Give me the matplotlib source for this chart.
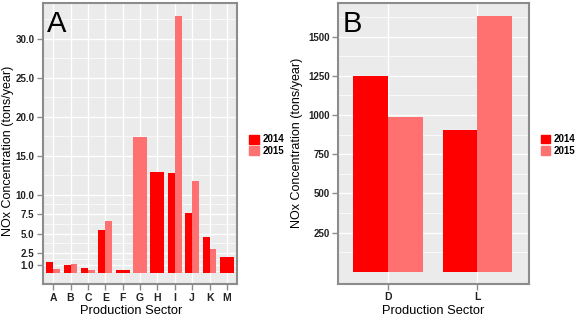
import matplotlib.pyplot as plt
import numpy as np

plt.rcParams['font.family'] = ['Liberation Sans', 'DejaVu Sans']

# panel A data
sectors_a = ['A', 'B', 'C', 'E', 'F', 'G', 'H', 'I', 'J', 'K', 'M']
nox_a_2014 = [1.4, 0.95, 0.6, 5.5, 0.35, np.nan, 12.95, 12.75, 7.6, 4.55, 2.0]
nox_a_2015 = [0.45, 1.1, 0.35, 6.6, np.nan, 17.4, np.nan, 32.9, 11.8, 3.0, np.nan]
yticks_a = [1.0, 2.5, 5.0, 7.5, 10.0, 15.0, 20.0, 25.0, 30.0]

# panel B data
sectors_b = ['D', 'L']
nox_b_2014 = [1250, 905]
nox_b_2015 = [990, 1632]
yticks_b = [250, 500, 750, 1000, 1250, 1500]

c2014 = '#FF0000'
c2015 = '#FF7070'
frame = '#8C8C8C'
tickcol = '#222222'


def draw_bars(ax, cats, v14, v15, width):
    for i in range(len(cats)):
        a, b = v14[i], v15[i]
        if np.isnan(b):
            ax.bar(i, a, width, color=c2014, zorder=3)
        elif np.isnan(a):
            ax.bar(i, b, width, color=c2015, zorder=3)
        else:
            ax.bar(i - width / 4, a, width / 2, color=c2014, zorder=3)
            ax.bar(i + width / 4, b, width / 2, color=c2015, zorder=3)


def style(ax, cats, yticks, ylim, fmt, letter, xlab_x, ylab_pos):
    ax.set_facecolor('#EBEBEB')
    ax.set_xticks(range(len(cats)))
    ax.set_xticklabels(cats, fontsize=7.5, color=tickcol, fontweight='bold')
    ax.set_yticks(yticks)
    ax.set_yticklabels([fmt(v) for v in yticks], fontsize=7, color=tickcol,
                       fontweight='bold')
    ext = [2 * yticks[0] - yticks[1]] + list(yticks) + [2 * yticks[-1] - yticks[-2]]
    minors = [(ext[k] + ext[k + 1]) / 2 for k in range(len(ext) - 1)]
    ax.set_yticks(minors, minor=True)
    ax.set_ylim(*ylim)
    ax.grid(True, which='major', color='white', linewidth=1.0, zorder=0)
    ax.grid(True, which='minor', axis='y', color='white', linewidth=0.5, zorder=0)
    ax.set_axisbelow(True)
    ax.tick_params(which='major', direction='out', length=4, width=1, color=frame, pad=2)
    ax.tick_params(which='minor', length=0)
    for s in ax.spines.values():
        s.set_color(frame)
        s.set_linewidth(1.5)
    ax.set_xlabel('Production Sector', fontsize=9.3)
    ax.xaxis.set_label_coords(xlab_x, -0.075)
    ax.set_ylabel('NOx Concentration (tons/year)', fontsize=9)
    ax.yaxis.set_label_coords(*ylab_pos)
    ax.text(0.022, 0.975, letter, transform=ax.transAxes, fontsize=21,
            va='top', ha='left', zorder=5)
    h = [plt.Rectangle((0, 0), 1, 1, color=c2014), plt.Rectangle((0, 0), 1, 1, color=c2015)]
    ax.legend(h, ['2014', '2015'], loc='center left', bbox_to_anchor=(1.04, 0.495),
              frameon=False, prop={'size': 7, 'weight': 'bold'},
              handlelength=1.0, handleheight=1.0,
              handletextpad=0.4, labelspacing=0.15, borderaxespad=0)


fig = plt.figure(figsize=(5.77, 3.2), dpi=100)

ax1 = fig.add_axes([0.074, 0.1116, 0.3373, 0.878])
draw_bars(ax1, sectors_a, nox_a_2014, nox_a_2015, 0.8)
ax1.set_xlim(-0.6, len(sectors_a) - 0.4)
style(ax1, sectors_a, yticks_a, (-1.5, 34.55), lambda v: '%.1f' % v, 'A',
      0.455, (-0.148, 0.474))

ax2 = fig.add_axes([0.5863, 0.1125, 0.3305, 0.878])
draw_bars(ax2, sectors_b, nox_b_2014, nox_b_2015, 0.78)
ax2.set_xlim(-0.56, 1.58)
style(ax2, sectors_b, yticks_b, (-78, 1715), lambda v: '%d' % v, 'B',
      0.5, (-0.185, 0.502))

fig.savefig('out.png', dpi=100)
